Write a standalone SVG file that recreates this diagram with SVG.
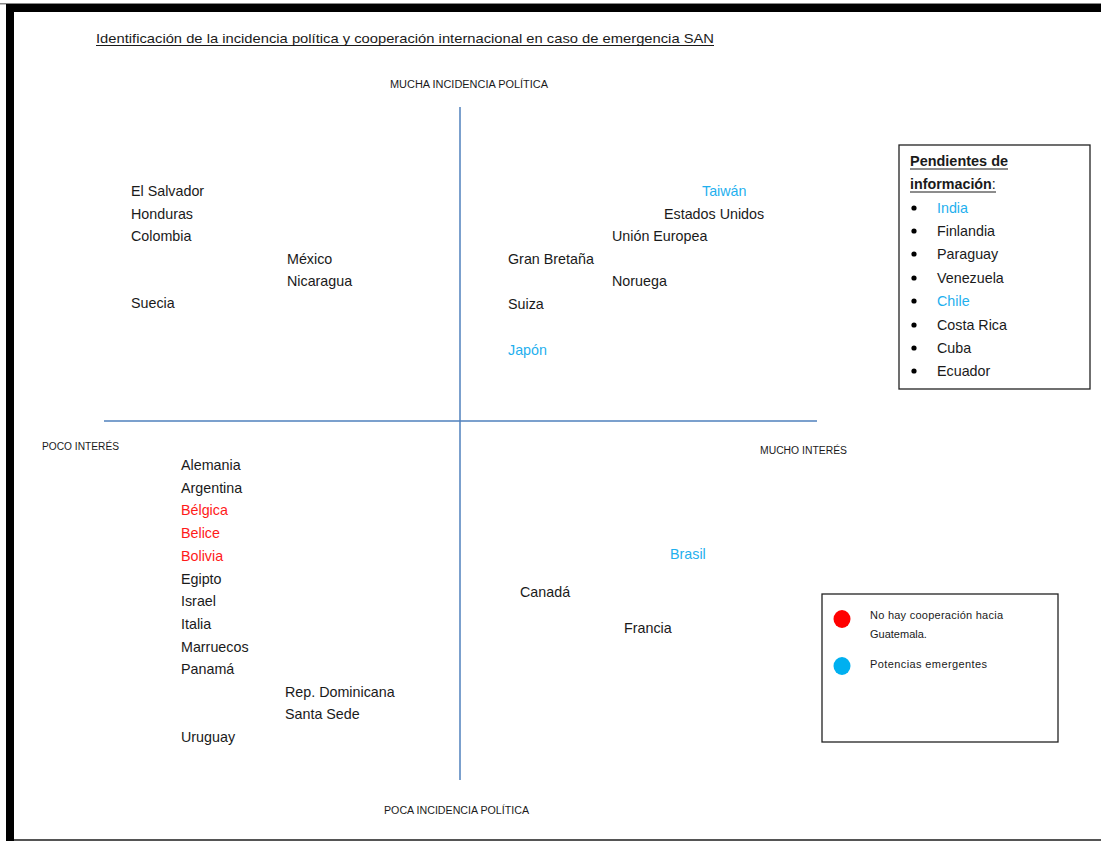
<svg xmlns="http://www.w3.org/2000/svg" width="1101" height="841" viewBox="0 0 1101 841">
<style>
text{font-family:"Liberation Sans",Arial,sans-serif;fill:#1a1a1a}
.c{font-size:14.3px}
.ax{font-size:10px}
.blue{fill:#1fb0ee}
.red{fill:#ff1a1a}
.box{fill:#fff;stroke:#222;stroke-width:1.3}
.axis{stroke:#4f81bd;stroke-width:1.5}
.lg{font-size:11px}
</style>
<rect width="1101" height="841" fill="#fff"/>
<g id="frame">
<rect x="0" y="3" width="1101" height="1.5" fill="#888"/>
<rect x="6" y="4" width="1095" height="8" fill="#000"/>
<rect x="6" y="4" width="8" height="837" fill="#000"/>
<rect x="14" y="839" width="1087" height="2" fill="#555"/>
</g>
<g id="title">
<text x="96" y="43" font-size="13.5" textLength="618" lengthAdjust="spacingAndGlyphs">Identificación de la incidencia política y cooperación internacional en caso de emergencia SAN</text>
<line x1="96" y1="45.5" x2="714" y2="45.5" stroke="#1a1a1a" stroke-width="1"/>
</g>
<g id="connectors">
<line class="axis" x1="460" y1="107" x2="460" y2="780"/>
<line class="axis" x1="104" y1="421" x2="817" y2="421"/>
</g>
<g id="axis-labels">
<text class="ax" x="390" y="88" textLength="158" lengthAdjust="spacingAndGlyphs">MUCHA INCIDENCIA  POLÍTICA</text>
<text class="ax" x="42" y="450" textLength="77" lengthAdjust="spacingAndGlyphs">POCO INTERÉS</text>
<text class="ax" x="760" y="454" textLength="87" lengthAdjust="spacingAndGlyphs">MUCHO INTERÉS</text>
<text class="ax" x="384" y="814" textLength="145" lengthAdjust="spacingAndGlyphs">POCA INCIDENCIA POLÍTICA</text>
</g>
<g id="quadrant-top-left">
<text class="c" x="131" y="196">El Salvador</text>
<text class="c" x="131" y="219">Honduras</text>
<text class="c" x="131" y="241">Colombia</text>
<text class="c" x="287" y="264">México</text>
<text class="c" x="287" y="286">Nicaragua</text>
<text class="c" x="131" y="308">Suecia</text>
</g>
<g id="quadrant-top-right">
<text class="c blue" x="702" y="196">Taiwán</text>
<text class="c" x="664" y="219">Estados Unidos</text>
<text class="c" x="612" y="241">Unión Europea</text>
<text class="c" x="508" y="264">Gran Bretaña</text>
<text class="c" x="612" y="286">Noruega</text>
<text class="c" x="508" y="309">Suiza</text>
<text class="c blue" x="508" y="355">Japón</text>
</g>
<g id="quadrant-bottom-left">
<text class="c" x="181" y="470">Alemania</text>
<text class="c" x="181" y="493">Argentina</text>
<text class="c red" x="181" y="515">Bélgica</text>
<text class="c red" x="181" y="538">Belice</text>
<text class="c red" x="181" y="561">Bolivia</text>
<text class="c" x="181" y="584">Egipto</text>
<text class="c" x="181" y="606">Israel</text>
<text class="c" x="181" y="629">Italia</text>
<text class="c" x="181" y="652">Marruecos</text>
<text class="c" x="181" y="674">Panamá</text>
<text class="c" x="285" y="697">Rep. Dominicana</text>
<text class="c" x="285" y="719">Santa Sede</text>
<text class="c" x="181" y="742">Uruguay</text>
</g>
<g id="quadrant-bottom-right">
<text class="c blue" x="670" y="559">Brasil</text>
<text class="c" x="520" y="597">Canadá</text>
<text class="c" x="624" y="633">Francia</text>
</g>
<g id="pending-box">
<rect class="box" x="899" y="145" width="191" height="244"/>
<text class="c" x="910" y="166" font-weight="bold" textLength="98" lengthAdjust="spacingAndGlyphs">Pendientes de</text>
<line x1="910" y1="169" x2="1008" y2="169" stroke="#1a1a1a" stroke-width="1"/>
<text class="c" x="910" y="189"><tspan font-weight="bold">información</tspan>:</text>
<line x1="910" y1="192" x2="996" y2="192" stroke="#1a1a1a" stroke-width="1"/>
<g fill="#000">
<circle cx="914" cy="208" r="2.6"/>
<circle cx="914" cy="231" r="2.6"/>
<circle cx="914" cy="254" r="2.6"/>
<circle cx="914" cy="278" r="2.6"/>
<circle cx="914" cy="301" r="2.6"/>
<circle cx="914" cy="325" r="2.6"/>
<circle cx="914" cy="348" r="2.6"/>
<circle cx="914" cy="371" r="2.6"/>
</g>
<text class="c blue" x="937" y="213">India</text>
<text class="c" x="937" y="236">Finlandia</text>
<text class="c" x="937" y="259">Paraguay</text>
<text class="c" x="937" y="283">Venezuela</text>
<text class="c blue" x="937" y="306">Chile</text>
<text class="c" x="937" y="330">Costa Rica</text>
<text class="c" x="937" y="353">Cuba</text>
<text class="c" x="937" y="376">Ecuador</text>
</g>
<g id="legend">
<rect class="box" x="822" y="594" width="236" height="148"/>
<ellipse cx="842" cy="619" rx="8.5" ry="9" fill="#ff0000"/>
<ellipse cx="842" cy="666" rx="8.5" ry="9" fill="#00b0f0"/>
<text class="lg" x="870" y="619" textLength="133" lengthAdjust="spacing">No hay cooperación hacia</text>
<text class="lg" x="870" y="638">Guatemala.</text>
<text class="lg" x="870" y="668" textLength="117" lengthAdjust="spacing">Potencias emergentes</text>
</g>
</svg>
